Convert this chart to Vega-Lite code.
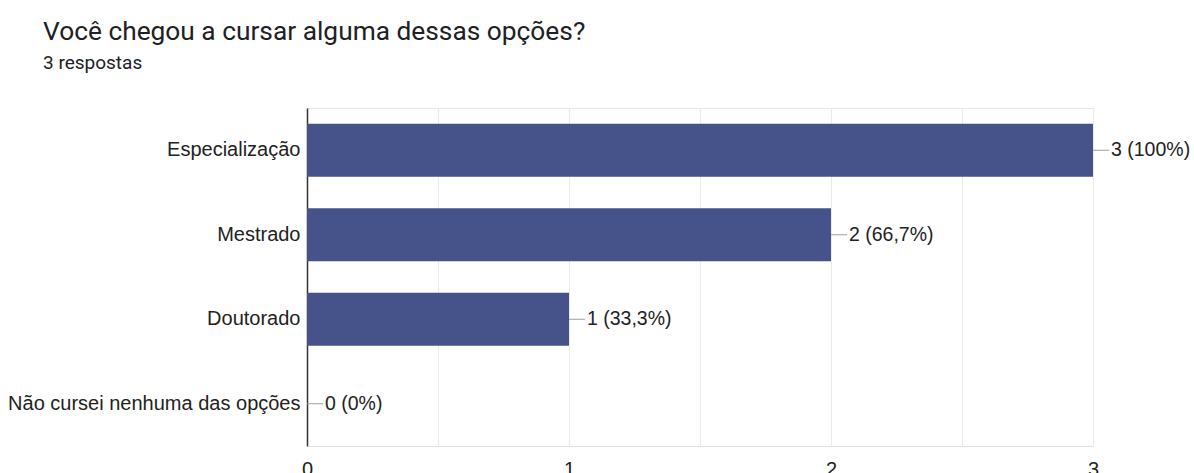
{
  "$schema": "https://vega.github.io/schema/vega-lite/v6.json",
  "autosize": "none",
  "width": 786,
  "height": 338,
  "padding": {"left": 307, "top": 108, "right": 101, "bottom": 27},
  "background": "white",
  "title": {
    "text": "Você chegou a cursar alguma dessas opções?",
    "subtitle": "3 respostas",
    "anchor": "start",
    "frame": "group",
    "dx": -264,
    "offset": 35,
    "font": "Roboto",
    "fontSize": 26.3,
    "fontWeight": "normal",
    "color": "#202124",
    "subtitleFont": "Roboto",
    "subtitleFontSize": 19,
    "subtitleColor": "#202124",
    "subtitlePadding": 9
  },
  "config": {
    "view": {"stroke": "#e6e6e6"},
    "font": "Liberation Sans"
  },
  "data": {
    "values": [
      {"opcao": "Especialização", "count": 3, "label": "3 (100%)"},
      {"opcao": "Mestrado", "count": 2, "label": "2 (66,7%)"},
      {"opcao": "Doutorado", "count": 1, "label": "1 (33,3%)"},
      {"opcao": "Não cursei nenhuma das opções", "count": 0, "label": "0 (0%)"}
    ]
  },
  "encoding": {
    "y": {
      "field": "opcao",
      "type": "nominal",
      "sort": null,
      "scale": {"paddingInner": 0.37, "paddingOuter": 0.185},
      "axis": {
        "title": null,
        "domainColor": "#333333",
        "domainWidth": 1.5,
        "ticks": false,
        "labelPadding": 7,
        "labelFontSize": 20,
        "labelLimit": 400,
        "labelColor": "#222222",
        "labelFont": "Liberation Sans"
      }
    }
  },
  "layer": [
    {
      "mark": {"type": "bar", "color": "#45538a"},
      "encoding": {
        "x": {
          "field": "count",
          "type": "quantitative",
          "scale": {"domain": [0, 3], "nice": false},
          "axis": {
            "title": null,
            "values": [0, 0.5, 1, 1.5, 2, 2.5, 3],
            "labelExpr": "datum.value % 1 === 0 ? format(datum.value, 'd') : ''",
            "domainColor": "#e0e0e0",
            "gridColor": "#ebebeb",
            "ticks": false,
            "labelPadding": 13,
            "labelFontSize": 20,
            "labelColor": "#222222",
            "labelFont": "Liberation Sans",
            "labelFlush": false
          }
        }
      }
    },
    {
      "mark": {"type": "rule", "color": "#9e9e9e", "x2Offset": 16, "strokeWidth": 1},
      "encoding": {
        "x": {"field": "count", "type": "quantitative"},
        "x2": {"field": "count"}
      }
    },
    {
      "mark": {"type": "text", "align": "left", "dx": 18, "fontSize": 19.5, "color": "#222222", "font": "Liberation Sans"},
      "encoding": {
        "x": {"field": "count", "type": "quantitative"},
        "text": {"field": "label"}
      }
    }
  ]
}
